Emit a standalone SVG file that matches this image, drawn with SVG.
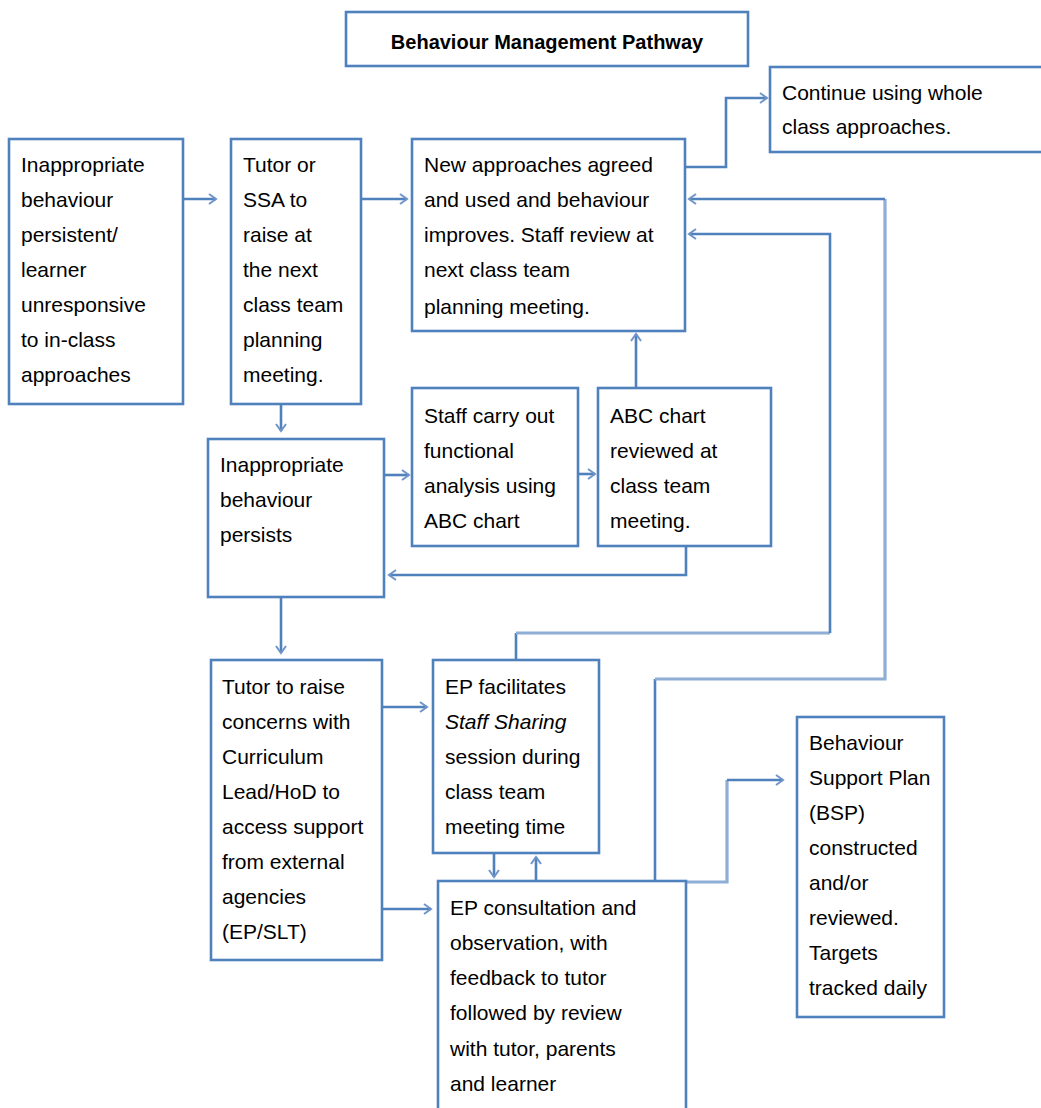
<svg xmlns="http://www.w3.org/2000/svg" width="1041" height="1108" viewBox="0 0 1041 1108">
<style>
.box{fill:#fff;stroke:#4f81bd;stroke-width:2.6}
.t{font-family:"Liberation Sans",Arial,sans-serif;font-size:21px;fill:#000}
.title{font-family:"Liberation Sans",Arial,sans-serif;font-size:20px;font-weight:bold;fill:#000}
.c{fill:none;stroke:#4f81bd;stroke-width:2.6}
.cl{fill:none;stroke:#8eaed6;stroke-width:3.2}
</style>
<defs>
<marker id="a" markerUnits="userSpaceOnUse" markerWidth="14" markerHeight="14" refX="9" refY="6" orient="auto">
<path d="M2,1 L9,6 L2,11" fill="none" stroke="#6f95c8" stroke-width="2"/>
</marker>
</defs>
<rect width="1041" height="1108" fill="#fff"/>

<g id="connectors">
<path class="c" d="M183,199 H216" marker-end="url(#a)"/>
<path class="c" d="M361,199 H407" marker-end="url(#a)"/>
<path class="c" d="M685,167 H726 V98 H767" marker-end="url(#a)"/>
<path class="c" d="M281,404 V431" marker-end="url(#a)"/>
<path class="c" d="M384,475 H409" marker-end="url(#a)"/>
<path class="c" d="M578,474 H595" marker-end="url(#a)"/>
<path class="c" d="M636,388 V334" marker-end="url(#a)"/>
<path class="c" d="M686,546 V575 H389" marker-end="url(#a)"/>
<path class="c" d="M281,597 V653" marker-end="url(#a)"/>
<path class="c" d="M383,707 H427" marker-end="url(#a)"/>
<path class="c" d="M383,909 H431" stroke-width="3.4" marker-end="url(#a)"/>
<path class="c" d="M494,853 V877" marker-end="url(#a)"/>
<path class="c" d="M536,881 V857" marker-end="url(#a)"/>
<path class="c" d="M516,660 V633"/>
<path class="cl" d="M516,633 H830"/>
<path class="c" d="M830,633 V234 H689" marker-end="url(#a)"/>
<path class="c" d="M655,881 V679"/>
<path class="cl" d="M655,679 H885 V199"/>
<path class="c" d="M885,199 H689" marker-end="url(#a)"/>
<path class="cl" d="M686,882 H727 V780"/>
<path class="c" d="M727,780 H783" marker-end="url(#a)"/>
</g>

<g id="title">
<rect class="box" x="346" y="12" width="402" height="54"/>
<text class="title" x="547" y="49" text-anchor="middle">Behaviour  Management  Pathway</text>
</g>

<g id="continue">
<rect class="box" x="770" y="67" width="276" height="85"/>
<text class="t"><tspan x="782" y="100">Continue using whole</tspan><tspan x="782" y="134">class approaches.</tspan></text>
</g>

<g id="box1">
<rect class="box" x="9" y="139" width="174" height="265"/>
<text class="t"><tspan x="21" y="172">Inappropriate</tspan><tspan x="21" y="207">behaviour</tspan><tspan x="21" y="242">persistent/</tspan><tspan x="21" y="277">learner</tspan><tspan x="21" y="312">unresponsive</tspan><tspan x="21" y="347">to in-class</tspan><tspan x="21" y="382">approaches</tspan></text>
</g>

<g id="box2">
<rect class="box" x="231" y="139" width="130" height="265"/>
<text class="t"><tspan x="243" y="172">Tutor or</tspan><tspan x="243" y="207">SSA to</tspan><tspan x="243" y="242">raise at</tspan><tspan x="243" y="277">the next</tspan><tspan x="243" y="312">class team</tspan><tspan x="243" y="347">planning</tspan><tspan x="243" y="382">meeting.</tspan></text>
</g>

<g id="box3">
<rect class="box" x="412" y="139" width="273" height="192"/>
<text class="t"><tspan x="424" y="172">New approaches  agreed</tspan><tspan x="424" y="207">and used and behaviour</tspan><tspan x="424" y="242">improves. Staff review at</tspan><tspan x="424" y="277">next class team</tspan><tspan x="424" y="314">planning meeting.</tspan></text>
</g>

<g id="box4">
<rect class="box" x="208" y="439" width="176" height="158"/>
<text class="t"><tspan x="220" y="472">Inappropriate</tspan><tspan x="220" y="507">behaviour</tspan><tspan x="220" y="542">persists</tspan></text>
</g>

<g id="box5">
<rect class="box" x="412" y="388" width="166" height="158"/>
<text class="t"><tspan x="424" y="423">Staff carry out</tspan><tspan x="424" y="458">functional</tspan><tspan x="424" y="493">analysis using</tspan><tspan x="424" y="528">ABC chart</tspan></text>
</g>

<g id="box6">
<rect class="box" x="598" y="388" width="173" height="158"/>
<text class="t"><tspan x="610" y="423">ABC chart</tspan><tspan x="610" y="458">reviewed  at</tspan><tspan x="610" y="493">class  team</tspan><tspan x="610" y="528">meeting.</tspan></text>
</g>

<g id="box7">
<rect class="box" x="211" y="660" width="171" height="300"/>
<text class="t"><tspan x="222" y="694">Tutor to raise</tspan><tspan x="222" y="729">concerns with</tspan><tspan x="222" y="764">Curriculum</tspan><tspan x="222" y="799">Lead/HoD to</tspan><tspan x="222" y="834">access support</tspan><tspan x="222" y="869">from external</tspan><tspan x="222" y="904">agencies</tspan><tspan x="222" y="939">(EP/SLT)</tspan></text>
</g>

<g id="box8">
<rect class="box" x="433" y="660" width="166" height="193"/>
<text class="t"><tspan x="445" y="694">EP facilitates</tspan><tspan x="445" y="729" font-style="italic">Staff Sharing</tspan><tspan x="445" y="764">session during</tspan><tspan x="445" y="799">class  team</tspan><tspan x="445" y="834">meeting  time</tspan></text>
</g>

<g id="box9">
<rect class="box" x="438" y="881" width="248" height="240"/>
<text class="t"><tspan x="450" y="915">EP consultation and</tspan><tspan x="450" y="950">observation,  with</tspan><tspan x="450" y="985">feedback  to tutor</tspan><tspan x="450" y="1020">followed  by review</tspan><tspan x="450" y="1056">with tutor,  parents</tspan><tspan x="450" y="1091">and learner</tspan></text>
</g>

<g id="box10">
<rect class="box" x="797" y="717" width="147" height="300"/>
<text class="t"><tspan x="809" y="750">Behaviour</tspan><tspan x="809" y="785">Support Plan</tspan><tspan x="809" y="820">(BSP)</tspan><tspan x="809" y="855">constructed</tspan><tspan x="809" y="890">and/or</tspan><tspan x="809" y="925">reviewed.</tspan><tspan x="809" y="960">Targets</tspan><tspan x="809" y="995">tracked daily</tspan></text>
</g>
</svg>
